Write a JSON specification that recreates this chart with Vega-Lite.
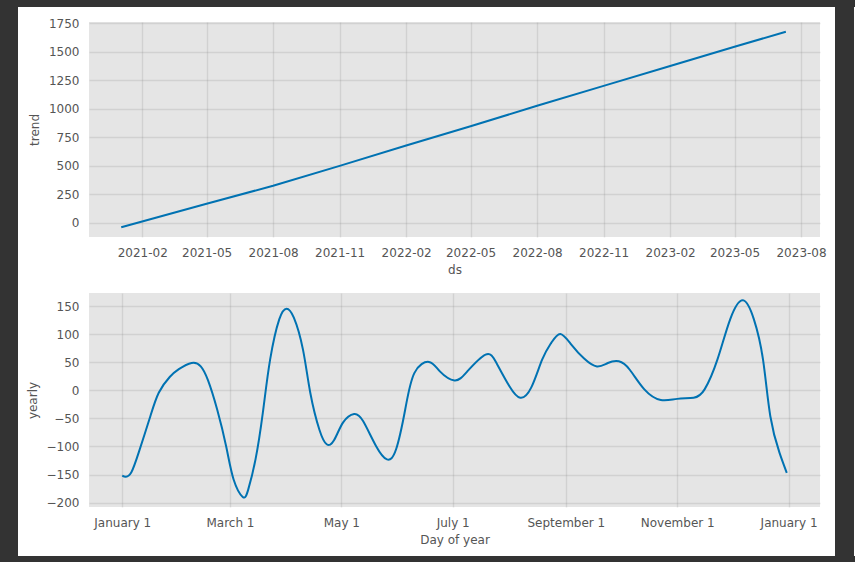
{
  "$schema": "https://vega.github.io/schema/vega-lite/v6.json",
  "background": "white",
  "padding": 0,
  "spacing": 0,
  "datasets": {
    "trend": [
      {"ds": "2021-01-03", "trend": -41},
      {"ds": "2021-05-01", "trend": 166},
      {"ds": "2021-08-01", "trend": 323},
      {"ds": "2021-11-01", "trend": 498},
      {"ds": "2022-02-01", "trend": 676},
      {"ds": "2022-05-01", "trend": 845},
      {"ds": "2022-08-01", "trend": 1025},
      {"ds": "2022-11-01", "trend": 1200},
      {"ds": "2023-02-01", "trend": 1375},
      {"ds": "2023-05-01", "trend": 1544},
      {"ds": "2023-07-11", "trend": 1675}
    ],
    "yearly": [
      {"ds": "2017-01-01", "yearly": -152},
      {"ds": "2017-01-03", "yearly": -154},
      {"ds": "2017-01-06", "yearly": -146},
      {"ds": "2017-01-10", "yearly": -111},
      {"ds": "2017-01-16", "yearly": -50},
      {"ds": "2017-01-21", "yearly": -4},
      {"ds": "2017-01-27", "yearly": 24},
      {"ds": "2017-02-01", "yearly": 38},
      {"ds": "2017-02-08", "yearly": 49},
      {"ds": "2017-02-13", "yearly": 43},
      {"ds": "2017-02-17", "yearly": 18},
      {"ds": "2017-02-22", "yearly": -34},
      {"ds": "2017-02-27", "yearly": -101},
      {"ds": "2017-03-03", "yearly": -159},
      {"ds": "2017-03-08", "yearly": -190},
      {"ds": "2017-03-11", "yearly": -177},
      {"ds": "2017-03-15", "yearly": -123},
      {"ds": "2017-03-19", "yearly": -40},
      {"ds": "2017-03-23", "yearly": 55},
      {"ds": "2017-03-28", "yearly": 127},
      {"ds": "2017-04-01", "yearly": 146},
      {"ds": "2017-04-05", "yearly": 130},
      {"ds": "2017-04-10", "yearly": 73},
      {"ds": "2017-04-14", "yearly": -4},
      {"ds": "2017-04-19", "yearly": -70},
      {"ds": "2017-04-23", "yearly": -96},
      {"ds": "2017-04-27", "yearly": -89},
      {"ds": "2017-05-02", "yearly": -57},
      {"ds": "2017-05-08", "yearly": -42},
      {"ds": "2017-05-13", "yearly": -55},
      {"ds": "2017-05-20", "yearly": -99},
      {"ds": "2017-05-26", "yearly": -123},
      {"ds": "2017-05-31", "yearly": -105},
      {"ds": "2017-06-05", "yearly": -34},
      {"ds": "2017-06-10", "yearly": 31},
      {"ds": "2017-06-18", "yearly": 51},
      {"ds": "2017-06-24", "yearly": 34},
      {"ds": "2017-07-02", "yearly": 18},
      {"ds": "2017-07-09", "yearly": 34},
      {"ds": "2017-07-19", "yearly": 64},
      {"ds": "2017-07-25", "yearly": 49},
      {"ds": "2017-08-01", "yearly": 8},
      {"ds": "2017-08-07", "yearly": -13},
      {"ds": "2017-08-13", "yearly": 5},
      {"ds": "2017-08-19", "yearly": 55},
      {"ds": "2017-08-24", "yearly": 85},
      {"ds": "2017-08-29", "yearly": 101},
      {"ds": "2017-09-04", "yearly": 82},
      {"ds": "2017-09-11", "yearly": 57},
      {"ds": "2017-09-18", "yearly": 43},
      {"ds": "2017-09-24", "yearly": 49},
      {"ds": "2017-09-30", "yearly": 52},
      {"ds": "2017-10-06", "yearly": 37},
      {"ds": "2017-10-14", "yearly": 2},
      {"ds": "2017-10-23", "yearly": -17},
      {"ds": "2017-11-01", "yearly": -15},
      {"ds": "2017-11-10", "yearly": -13},
      {"ds": "2017-11-16", "yearly": 2},
      {"ds": "2017-11-23", "yearly": 55},
      {"ds": "2017-11-30", "yearly": 127},
      {"ds": "2017-12-07", "yearly": 161},
      {"ds": "2017-12-13", "yearly": 127},
      {"ds": "2017-12-18", "yearly": 55},
      {"ds": "2017-12-22", "yearly": -46},
      {"ds": "2017-12-27", "yearly": -111},
      {"ds": "2017-12-31", "yearly": -147}
    ]
  },
  "config": {
    "font": "DejaVu Sans",
    "view": {"fill": "#e5e5e5", "stroke": null},
    "axis": {
      "domain": false,
      "ticks": false,
      "labelPadding": 10,
      "labelFont": "DejaVu Sans",
      "labelFontSize": 12,
      "labelColor": "#555555",
      "labelFlush": false,
      "labelOverlap": false,
      "titleFont": "DejaVu Sans",
      "titleFontSize": 12,
      "titleFontWeight": "normal",
      "titleColor": "#555555",
      "titlePadding": 6.5,
      "gridColor": "#808080",
      "gridOpacity": 0.2,
      "gridWidth": 1.4
    },
    "line": {"color": "#0072B2", "strokeWidth": 2}
  },
  "vconcat": [
    {
      "width": 855,
      "height": 7,
      "data": {"values": []},
      "mark": "point",
      "view": {"fill": "#333333", "stroke": null}
    },
    {
      "spacing": 8,
      "hconcat": [
        {
          "width": 18,
          "height": 549,
          "data": {"values": []},
          "mark": "point",
          "view": {"fill": "#333333", "stroke": null}
        },
        {
          "spacing": 0,
          "vconcat": [
            {
              "width": 1,
              "height": 10,
              "data": {"values": []},
              "mark": "point",
              "view": {"fill": null, "stroke": null}
            },
            {
              "spacing": 17,
              "vconcat": [
                {
                  "width": 731,
                  "height": 215,
                  "data": {"name": "trend"},
                  "mark": {"type": "line"},
                  "encoding": {
                    "x": {
                      "field": "ds",
                      "type": "temporal",
                      "title": "ds",
                      "scale": {
                        "type": "utc",
                        "nice": false,
                        "domain": [
                          {"year": 2020, "month": 11, "date": 19, "hours": 10, "utc": true},
                          {"year": 2023, "month": 8, "date": 27, "hours": 5, "utc": true}
                        ]
                      },
                      "axis": {
                        "format": "%Y-%m",
                        "values": [
                          {"year": 2021, "month": 2, "date": 1, "utc": true},
                          {"year": 2021, "month": 5, "date": 1, "utc": true},
                          {"year": 2021, "month": 8, "date": 1, "utc": true},
                          {"year": 2021, "month": 11, "date": 1, "utc": true},
                          {"year": 2022, "month": 2, "date": 1, "utc": true},
                          {"year": 2022, "month": 5, "date": 1, "utc": true},
                          {"year": 2022, "month": 8, "date": 1, "utc": true},
                          {"year": 2022, "month": 11, "date": 1, "utc": true},
                          {"year": 2023, "month": 2, "date": 1, "utc": true},
                          {"year": 2023, "month": 5, "date": 1, "utc": true},
                          {"year": 2023, "month": 8, "date": 1, "utc": true}
                        ]
                      }
                    },
                    "y": {
                      "field": "trend",
                      "type": "quantitative",
                      "title": "trend",
                      "scale": {"domain": [-126.6, 1760.8], "nice": false, "zero": false},
                      "axis": {"format": "d", "values": [0, 250, 500, 750, 1000, 1250, 1500, 1750]}
                    }
                  }
                },
                {
                  "width": 731,
                  "height": 214,
                  "data": {"name": "yearly"},
                  "mark": {"type": "line", "interpolate": "natural"},
                  "encoding": {
                    "x": {
                      "field": "ds",
                      "type": "temporal",
                      "title": "Day of year",
                      "scale": {
                        "type": "utc",
                        "nice": false,
                        "domain": [
                          {"year": 2016, "month": 12, "date": 13, "hours": 19, "utc": true},
                          {"year": 2018, "month": 1, "date": 18, "hours": 5, "utc": true}
                        ]
                      },
                      "axis": {
                        "format": "%B %-d",
                        "values": [
                          {"year": 2017, "month": 1, "date": 1, "utc": true},
                          {"year": 2017, "month": 3, "date": 1, "utc": true},
                          {"year": 2017, "month": 5, "date": 1, "utc": true},
                          {"year": 2017, "month": 7, "date": 1, "utc": true},
                          {"year": 2017, "month": 9, "date": 1, "utc": true},
                          {"year": 2017, "month": 11, "date": 1, "utc": true},
                          {"year": 2018, "month": 1, "date": 1, "utc": true}
                        ]
                      }
                    },
                    "y": {
                      "field": "yearly",
                      "type": "quantitative",
                      "title": "yearly",
                      "scale": {"domain": [-208, 174], "nice": false, "zero": false},
                      "axis": {"format": "d", "values": [-200, -150, -100, -50, 0, 50, 100, 150]}
                    }
                  }
                }
              ]
            }
          ]
        },
        {
          "width": 19,
          "height": 549,
          "data": {"values": []},
          "mark": "point",
          "view": {"fill": "#333333", "stroke": null}
        }
      ]
    },
    {
      "width": 855,
      "height": 6,
      "data": {"values": []},
      "mark": "point",
      "view": {"fill": "#333333", "stroke": null}
    }
  ]
}
